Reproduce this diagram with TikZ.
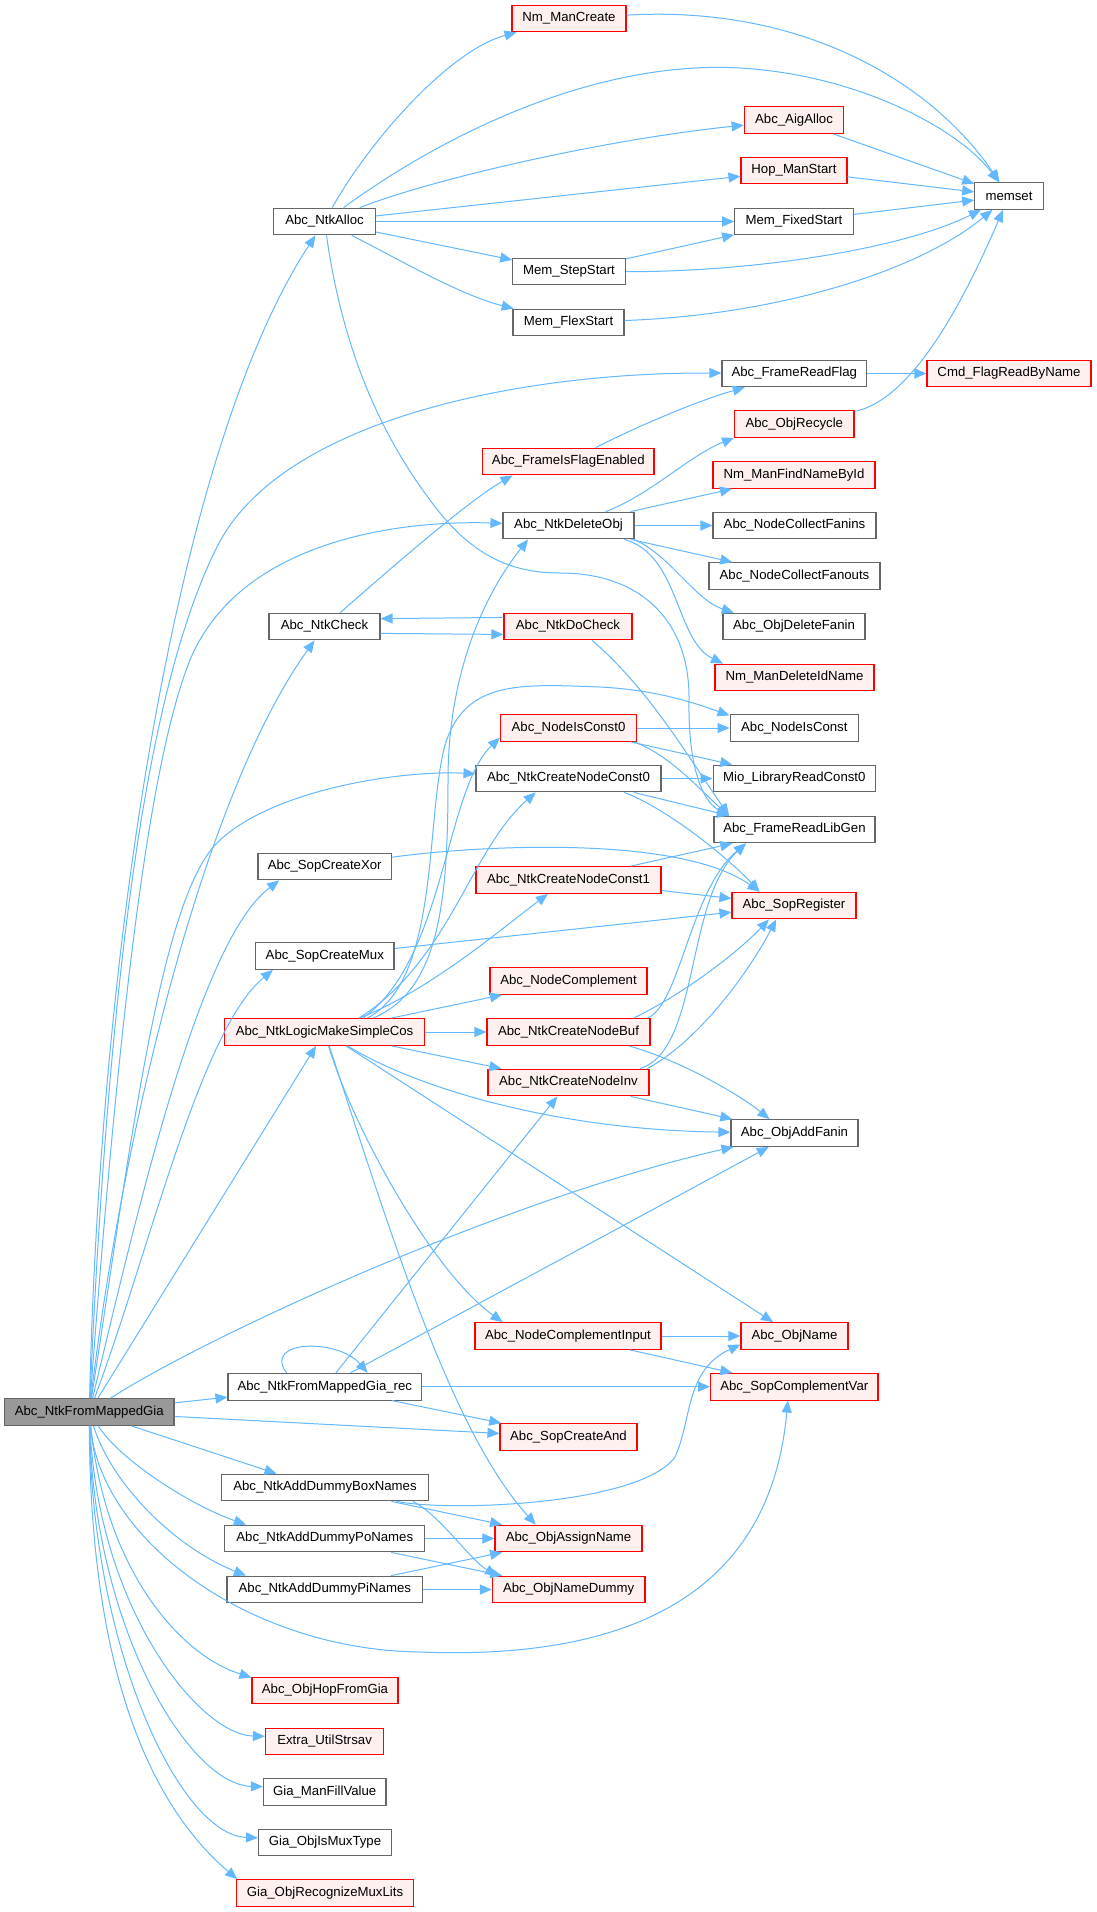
\documentclass[tikz,border=0pt]{standalone}
\usepackage{fontspec}
\setmainfont{Liberation Sans}
\usetikzlibrary{arrows.meta}
\definecolor{edgec}{HTML}{63B8FF}
\definecolor{grayb}{HTML}{666666}
\definecolor{redf}{HTML}{FFF0F0}
\definecolor{rootf}{HTML}{999999}
\definecolor{redb}{HTML}{FF0000}
\begin{document}
\begin{tikzpicture}[x=1pt,y=-1pt,
  nbox/.style={draw=grayb,fill=white,line width=1.1pt,minimum height=26.7pt,inner sep=0pt,font=\fontsize{13.2}{16}\selectfont},
  nrbox/.style={nbox,draw=redb,fill=redf},
  nroot/.style={nbox,fill=rootf},
  ed/.style={draw=edgec,line width=1pt,-{Triangle[length=12pt,width=10pt]}}]
\useasboundingbox (0,0) rectangle (1096,1912);
\fill[white] (0,0) rectangle (1096,1912);
% nodes
\node[nroot,minimum width=169.4pt] (R) at (89.3,1412) {Abc\_NtkFromMappedGia};
\node[nrbox,minimum width=114pt] (NmC) at (569,18.5) {Nm\_ManCreate};
\node[nbox,minimum width=68.5pt] (mem) at (1009,196) {memset};
\node[nrbox,minimum width=99.5pt] (Aig) at (794,120) {Abc\_AigAlloc};
\node[nrbox,minimum width=106pt] (HopS) at (794,170.5) {Hop\_ManStart};
\node[nbox,minimum width=118.5pt] (Fix) at (794,221.5) {Mem\_FixedStart};
\node[nbox,minimum width=101.7pt] (Alloc) at (324.5,221.5) {Abc\_NtkAlloc};
\node[nbox,minimum width=112.5pt] (Step) at (569,271.5) {Mem\_StepStart};
\node[nbox,minimum width=111pt] (Flex) at (568.5,322.5) {Mem\_FlexStart};
\node[nbox,minimum width=144.6pt] (FRF) at (794.3,373.5) {Abc\_FrameReadFlag};
\node[nrbox,minimum width=164pt] (Cmd) at (1009,373.5) {Cmd\_FlagReadByName};
\node[nrbox,minimum width=119.3pt] (Recy) at (794.3,424) {Abc\_ObjRecycle};
\node[nrbox,minimum width=171.4pt] (FIFE) at (568.3,461.5) {Abc\_FrameIsFlagEnabled};
\node[nrbox,minimum width=162pt] (FindN) at (794,475) {Nm\_ManFindNameById};
\node[nbox,minimum width=131pt] (Del) at (568.5,525.5) {Abc\_NtkDeleteObj};
\node[nbox,minimum width=163pt] (CFin) at (794.5,525.5) {Abc\_NodeCollectFanins};
\node[nbox,minimum width=171pt] (CFout) at (794.5,576) {Abc\_NodeCollectFanouts};
\node[nbox,minimum width=142pt] (DelF) at (794,626.5) {Abc\_ObjDeleteFanin};
\node[nrbox,minimum width=159pt] (DelN) at (794.5,677.5) {Nm\_ManDeleteIdName};
\node[nbox,minimum width=111pt] (Chk) at (324.5,626.5) {Abc\_NtkCheck};
\node[nrbox,minimum width=128pt] (DoChk) at (568,626.5) {Abc\_NtkDoCheck};
\node[nbox,minimum width=128.5pt] (IsC) at (794.3,728) {Abc\_NodeIsConst};
\node[nrbox,minimum width=136pt] (IsC0) at (568.5,728) {Abc\_NodeIsConst0};
\node[nbox,minimum width=162.5pt] (Mio) at (794.3,778.5) {Mio\_LibraryReadConst0};
\node[nbox,minimum width=185pt] (C0) at (568.5,778.5) {Abc\_NtkCreateNodeConst0};
\node[nbox,minimum width=161pt] (Lib) at (794.5,829.5) {Abc\_FrameReadLibGen};
\node[nbox,minimum width=133.4pt] (Xor) at (324.7,866.5) {Abc\_SopCreateXor};
\node[nrbox,minimum width=185pt] (C1) at (568.5,880) {Abc\_NtkCreateNodeConst1};
\node[nrbox,minimum width=124pt] (SopR) at (794,905.5) {Abc\_SopRegister};
\node[nbox,minimum width=138.3pt] (Mux) at (324.8,956) {Abc\_SopCreateMux};
\node[nrbox,minimum width=157pt] (NComp) at (568.5,981) {Abc\_NodeComplement};
\node[nrbox,minimum width=199.6pt] (L) at (324.6,1032) {Abc\_NtkLogicMakeSimpleCos};
\node[nrbox,minimum width=163pt] (Buf) at (568.5,1032) {Abc\_NtkCreateNodeBuf};
\node[nrbox,minimum width=161pt] (Inv) at (568.5,1082.5) {Abc\_NtkCreateNodeInv};
\node[nbox,minimum width=127pt] (AddF) at (794.5,1133) {Abc\_ObjAddFanin};
\node[nrbox,minimum width=186pt] (CompIn) at (568,1336) {Abc\_NodeComplementInput};
\node[nrbox,minimum width=107pt] (OName) at (794.5,1336) {Abc\_ObjName};
\node[nbox,minimum width=193.6pt] (Rec) at (324.8,1386.7) {Abc\_NtkFromMappedGia\_rec};
\node[nrbox,minimum width=167.4pt] (SCV) at (794.3,1386.7) {Abc\_SopComplementVar};
\node[nrbox,minimum width=137pt] (And) at (568.5,1437) {Abc\_SopCreateAnd};
\node[nbox,minimum width=206.6pt] (Box) at (325,1487.5) {Abc\_NtkAddDummyBoxNames};
\node[nrbox,minimum width=147pt] (Assign) at (568.5,1538.5) {Abc\_ObjAssignName};
\node[nbox,minimum width=200pt] (Po) at (324.8,1538.5) {Abc\_NtkAddDummyPoNames};
\node[nbox,minimum width=195.6pt] (Pi) at (324.8,1589.5) {Abc\_NtkAddDummyPiNames};
\node[nrbox,minimum width=152.5pt] (Dummy) at (568.7,1589.5) {Abc\_ObjNameDummy};
\node[nrbox,minimum width=146pt] (HopG) at (325,1690.5) {Abc\_ObjHopFromGia};
\node[nrbox,minimum width=118.2pt] (Strs) at (324.6,1741.5) {Extra\_UtilStrsav};
\node[nbox,minimum width=122.6pt] (Fill) at (324.7,1792) {Gia\_ManFillValue};
\node[nbox,minimum width=133pt] (IsMux) at (325,1842.5) {Gia\_ObjIsMuxType};
\node[nrbox,minimum width=176.2pt] (RMux) at (325,1893) {Gia\_ObjRecognizeMuxLits};
% root edges
\draw[ed] (R) .. controls (100,950) and (175,450) .. (Alloc);
\draw[ed] (R) .. controls (110,950) and (150,680) .. (217,547) .. controls (280,420) and (520,372) .. (FRF);
\draw[ed] (R) .. controls (120,1000) and (150,760) .. (190,660) .. controls (240,540) and (400,520) .. (Del);
\draw[ed] (R) .. controls (120,1150) and (200,800) .. (Chk);
\draw[ed] (R) .. controls (130,1150) and (160,900) .. (217,843) .. controls (270,790) and (400,770) .. (C0);
\draw[ed] (R) .. controls (140,1200) and (200,940) .. (Xor.197);
\draw[ed] (R) .. controls (150,1250) and (200,1030) .. (Mux.195);
\draw[ed] (R) -- (L);
\draw[ed] (R) .. controls (200,1340) and (500,1200) .. (AddF);
\draw[ed] (R) -- (Rec);
\draw[ed] (R) -- (And);
\draw[ed] (R) -- (Box.164);
\draw[ed] (R) .. controls (120,1460) and (190,1505) .. (Po.170);
\draw[ed] (R) .. controls (110,1480) and (170,1545) .. (Pi.170);
\draw[ed] (R) .. controls (100,1540) and (250,1650) .. (420,1652) .. controls (620,1660) and (770,1600) .. (SCV.245);
\draw[ed] (R) .. controls (105,1570) and (180,1655) .. (HopG.170);
\draw[ed] (R) .. controls (98,1610) and (200,1735) .. (Strs.175);
\draw[ed] (R) .. controls (94,1630) and (190,1785) .. (Fill.175);
\draw[ed] (R) .. controls (92,1650) and (180,1835) .. (IsMux.176);
\draw[ed] (R) .. controls (90,1670) and (150,1805) .. (RMux.171);
% Abc_NtkAlloc
\draw[ed] (Alloc) .. controls (370,140) and (450,50) .. (NmC);
\draw[ed] (Alloc) .. controls (450,130) and (600,60) .. (740,68) .. controls (860,75) and (960,130) .. (mem);
\draw[ed] (Alloc) .. controls (430,180) and (600,140) .. (Aig);
\draw[ed] (Alloc) -- (HopS);
\draw[ed] (Alloc) -- (Fix);
\draw[ed] (Alloc) -- (Step);
\draw[ed] (Alloc) .. controls (400,260) and (460,295) .. (Flex);
\draw[ed] (Alloc) .. controls (340,330) and (370,420) .. (430,500) .. controls (470,555) and (510,573) .. (560,573) .. controls (640,573) and (690,620) .. (689,700) .. controls (688,760) and (700,800) .. (Lib.168);
% memset targets
\draw[ed] (NmC) .. controls (800,5) and (930,80) .. (mem);
\draw[ed] (Aig) -- (mem);
\draw[ed] (HopS) -- (mem);
\draw[ed] (Fix) -- (mem);
\draw[ed] (Step) -- (Fix);
\draw[ed] (Step) .. controls (750,272) and (900,250) .. (mem);
\draw[ed] (Flex) .. controls (780,315) and (920,270) .. (mem);
\draw[ed] (Recy) .. controls (910,400) and (960,310) .. (mem);
\draw[ed] (FRF) -- (Cmd);
\draw[ed] (FIFE) .. controls (640,425) and (700,400) .. (FRF);
% Abc_NtkDeleteObj
\draw[ed] (Del) .. controls (650,495) and (690,455) .. (Recy.193);
\draw[ed] (Del) -- (FindN);
\draw[ed] (Del) -- (CFin);
\draw[ed] (Del) -- (CFout);
\draw[ed] (Del.-12) .. controls (670,555) and (695,600) .. (DelF.167);
\draw[ed] (Del.-14) .. controls (680,555) and (675,640) .. (DelN.169);
% checks
\draw[ed] (Chk) .. controls (400,560) and (470,500) .. (FIFE.194);
\draw[ed] (Chk.-7.7) -- (DoChk.187.6);
\draw[ed] (DoChk.172.4) -- (Chk.8.7);
\draw[ed] (DoChk.-30) .. controls (650,690) and (690,760) .. (Lib.168);
% const nodes
\draw[ed] (IsC0) -- (IsC);
\draw[ed] (IsC0) -- (Mio);
\draw[ed] (IsC0.-12) .. controls (670,755) and (700,790) .. (Lib.168);
\draw[ed] (C0) -- (Mio);
\draw[ed] (C0.-12) -- (Lib.168);
\draw[ed] (C0.-14) .. controls (670,810) and (730,860) .. (SopR.158);
\draw[ed] (C1) -- (Lib);
\draw[ed] (C1) -- (SopR);
\draw[ed] (Xor) .. controls (480,845) and (680,835) .. (SopR.158);
\draw[ed] (Mux) -- (SopR);
\draw[ed] (Buf.10) .. controls (680,1005) and (690,890) .. (Lib.196);
\draw[ed] (Buf.12) .. controls (690,990) and (740,950) .. (SopR.209);
\draw[ed] (Buf.-13) .. controls (680,1060) and (740,1095) .. (AddF.151);
\draw[ed] (Inv.11) .. controls (700,1050) and (685,900) .. (Lib.196);
\draw[ed] (Inv.10) .. controls (700,1040) and (750,970) .. (SopR.218);
\draw[ed] (Inv) -- (AddF);
% Abc_NtkLogicMakeSimpleCos
\draw[ed] (L.16) .. controls (440,990) and (448,900) .. (448,780) .. controls (448,680) and (480,600) .. (Del.199);
\draw[ed] (L.18) .. controls (440,980) and (425,820) .. (445,745) .. controls (465,680) and (520,684) .. (600,687) .. controls (660,690) and (700,705) .. (IsC.169);
\draw[ed] (L.20) .. controls (445,960) and (445,790) .. (IsC0.188);
\draw[ed] (L.22) .. controls (450,960) and (470,850) .. (C0.203);
\draw[ed] (L) .. controls (430,990) and (500,930) .. (C1.214);
\draw[ed] (L) -- (NComp);
\draw[ed] (L) -- (Buf);
\draw[ed] (L) -- (Inv);
\draw[ed] (L) .. controls (420,1090) and (560,1130) .. (AddF);
\draw[ed] (L) -- (OName);
\draw[ed] (L) .. controls (350,1120) and (430,1270) .. (CompIn.168);
\draw[ed] (L) .. controls (390,1230) and (450,1430) .. (Assign.157);
% Abc_NtkFromMappedGia_rec
\draw[ed] (Rec.160) .. controls (262,1340) and (338,1338) .. (Rec.18);
\draw[ed] (Rec) -- (Inv);
\draw[ed] (Rec) -- (AddF);
\draw[ed] (Rec) -- (SCV);
\draw[ed] (Rec) -- (And);
\draw[ed] (CompIn) -- (OName);
\draw[ed] (CompIn) -- (SCV);
% dummy names
\draw[ed] (Box.-11) .. controls (450,1512) and (640,1505) .. (675,1457) .. controls (692,1420) and (685,1370) .. (OName.189);
\draw[ed] (Box) -- (Assign);
\draw[ed] (Box.-9) .. controls (440,1515) and (470,1560) .. (Dummy.169);
\draw[ed] (Po) -- (Assign);
\draw[ed] (Po) -- (Dummy);
\draw[ed] (Pi) -- (Assign);
\draw[ed] (Pi) -- (Dummy);
\end{tikzpicture}
\end{document}
